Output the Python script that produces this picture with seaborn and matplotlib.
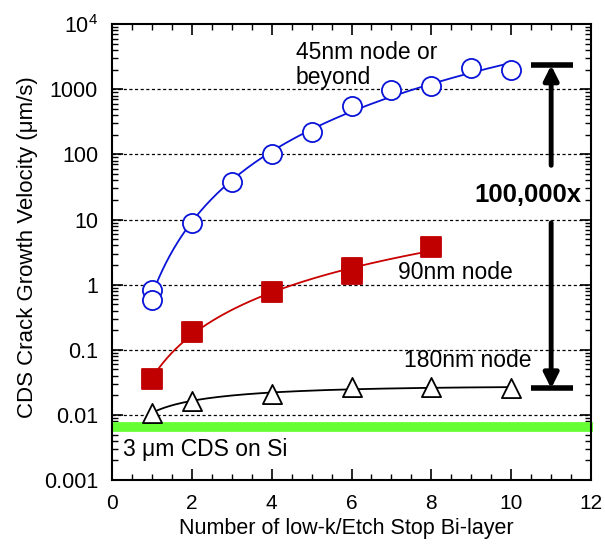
import matplotlib

matplotlib.use("Agg")
import matplotlib.pyplot as plt
from matplotlib.ticker import FixedLocator, LogLocator, NullFormatter, MultipleLocator
import seaborn as sns
import numpy as np
import pandas as pd

# データ
x_45nm = [1, 1, 2, 3, 4, 5, 6, 7, 8, 9, 10]
v_45nm = [0.83, 0.59, 8.9, 38, 102, 217, 551, 970, 1117, 2090, 1970]

x_90nm = [1, 2, 4, 6, 6, 8]
v_90nm = [0.035, 0.185, 0.78, 1.45, 1.8, 3.8]

x_180nm = [1, 2, 4, 6, 8, 10]
v_180nm = [0.0108, 0.0165, 0.0207, 0.0264, 0.027, 0.0255]

cds_on_si = 0.0065
span_top, span_bottom = 2340, 0.0255

y_ticks = [0.001, 0.01, 0.1, 1, 10, 100, 1000, 10000]
y_tick_labels = ["0.001", "0.01", "0.1", "1", "10", "100", "1000", r"10$^4$"]
x_ticks = [0, 2, 4, 6, 8, 10, 12]

sns.set_theme(style="ticks")
plt.rcParams["font.family"] = ["Liberation Sans", "DejaVu Sans"]
plt.rcParams["mathtext.fontset"] = "custom"
plt.rcParams["mathtext.rm"] = "Liberation Sans"
plt.rcParams["text.color"] = "black"
plt.rcParams["axes.labelcolor"] = "black"

fig = plt.figure(figsize=(6.05, 5.44), dpi=100)
ax = fig.add_axes([0.185, 0.1176, 0.792, 0.838])
ax.set_yscale("log")
ax.set_xlim(0, 12)
ax.set_ylim(0.001, 10000)

# 点線のグリッド
for yv in y_ticks[1:-1]:
    ax.axhline(yv, color="black", lw=0.9, ls=(0, (2.5, 2)), zorder=1)

# 3um CDS on Si
ax.hlines(cds_on_si, 0, 12.06, color="#66ff33", lw=7, zorder=2, clip_on=False)


def fit_curve(xs, vs, xmax):
    # log-log 空間で2次フィット
    lx = np.log(np.array(xs, dtype=float))
    ly = np.log10(np.array(vs))
    coef = np.polyfit(lx, ly, 2)
    xf = np.linspace(1, xmax, 200)
    return xf, 10 ** np.polyval(coef, np.log(xf))


series = [
    (x_45nm, v_45nm, 10, "#0a14d8", "o", "white", "#0a14d8"),
    (x_90nm, v_90nm, 8, "#c80000", "s", "#c00000", "#c00000"),
    (x_180nm, v_180nm, 10, "black", "^", "white", "black"),
]
for xs, vs, xmax, lc, mk, fc, ec in series:
    xf, yf = fit_curve(xs, vs, xmax)
    ax.plot(xf, yf, color=lc, lw=1.3, zorder=3)
    df = pd.DataFrame({"x": xs, "v": vs})
    sns.scatterplot(data=df, x="x", y="v", ax=ax, marker=mk, s=190,
                    facecolor=fc, edgecolor=ec, linewidth=1.3, zorder=4)

# 100,000x の矢印
ax.hlines([span_top, span_bottom], 10.5, 11.55, color="black", lw=4, zorder=5)
ax.annotate("", xy=(11, span_top), xytext=(11, 68),
            arrowprops=dict(arrowstyle="-|>", color="black", lw=3.5, mutation_scale=22,
                            shrinkA=0, shrinkB=0))
ax.annotate("", xy=(11, span_bottom), xytext=(11, 8.9),
            arrowprops=dict(arrowstyle="-|>", color="black", lw=3.5, mutation_scale=22,
                            shrinkA=0, shrinkB=0))
ax.text(10.43, 23.7, "100,000x", fontsize=18.5, fontweight="bold", ha="center", va="center")

# ラベル
ax.text(4.61, 2350, "45nm node or\nbeyond", fontsize=16.5, ha="left", va="center", linespacing=1.1)
ax.text(8.6, 1.56, "90nm node", fontsize=16.5, ha="center", va="center")
ax.text(8.92, 0.068, "180nm node", fontsize=16.5, ha="center", va="center")
ax.text(0.27, 0.0029, "3 μm CDS on Si", fontsize=16.5, ha="left", va="center")

ax.set_xticks(x_ticks)
ax.xaxis.set_minor_locator(MultipleLocator(0.5))
ax.yaxis.set_major_locator(FixedLocator(y_ticks))
ax.set_yticklabels(y_tick_labels)
ax.yaxis.set_minor_locator(LogLocator(base=10, subs=np.arange(2, 10), numticks=20))
ax.yaxis.set_minor_formatter(NullFormatter())
ax.tick_params(which="both", direction="in", top=True, right=True, labelsize=15.5, colors="black")
ax.tick_params(which="major", length=8, width=1.2)
ax.tick_params(axis="x", which="major", pad=10, labelsize=15)
ax.tick_params(axis="y", which="major", pad=10)
ax.tick_params(which="minor", length=4, width=1)
for sp in ax.spines.values():
    sp.set_linewidth(1.5)
    sp.set_color("black")

ax.set_xlabel("Number of low-k/Etch Stop Bi-layer", fontsize=15.5, va="top")
ax.set_ylabel("CDS Crack Growth Velocity (μm/s)", fontsize=16)
ax.xaxis.set_label_coords(0.49, -0.083)
ax.yaxis.set_label_coords(-0.155, 0.51)

fig.savefig("out.png", dpi=100)
plt.close(fig)
